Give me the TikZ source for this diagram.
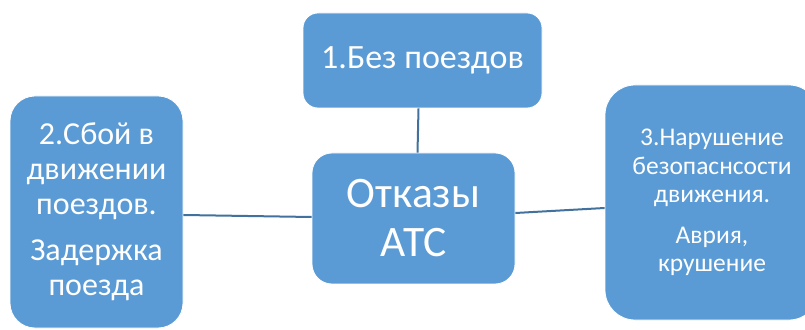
\documentclass[tikz,border=0pt]{standalone}
\usepackage{fontspec}
\setmainfont{Carlito}
\definecolor{boxfill}{HTML}{5B9BD5}
\definecolor{linkcol}{HTML}{41719C}
\begin{document}
\begin{tikzpicture}[x=1pt,y=1pt,
  box/.style={draw=white, line width=0.8pt, fill=boxfill, text=white,
    inner sep=0pt, align=center},
  link/.style={draw=linkcol, line width=2pt}]
\useasboundingbox (0,0) rectangle (805,329);
% central node
\node[box, rounded corners=20pt, minimum width=203pt, minimum height=131pt,
  font=\fontsize{43.5}{49}\selectfont] (hub) at (413.5,110.5) {Отказы\\АТС};
% three causes around it
\node[box, rounded corners=15pt, minimum width=239pt, minimum height=95pt,
  font=\fontsize{34}{38}\selectfont] (top) at (422.5,268.5) {1.Без поездов};
\node[box, rounded corners=25pt, minimum width=173pt, minimum height=232pt,
  font=\fontsize{32}{35}\selectfont] (left) at (96.5,117)
  {2.Сбой в\\движении\\поездов.\\[11pt]Задержка\\поезда};
\node[box, rounded corners=30pt, minimum width=214pt, minimum height=235pt,
  font=\fontsize{25.5}{28.5}\selectfont] (right) at (712,126.5)
  {3.Нарушение\\безопаснсости\\движения.\\[12pt]Аврия,\\крушение};
% connectors
\draw[link] ([xshift=-4pt]top.south) -- ([xshift=4pt]hub.north);
\draw[link] ([yshift=-3pt]left.east) -- ([yshift=1.5pt]hub.west);
\draw[link] ([yshift=5.5pt]hub.east) -- ([yshift=-5.5pt]right.west);
\end{tikzpicture}
\end{document}
